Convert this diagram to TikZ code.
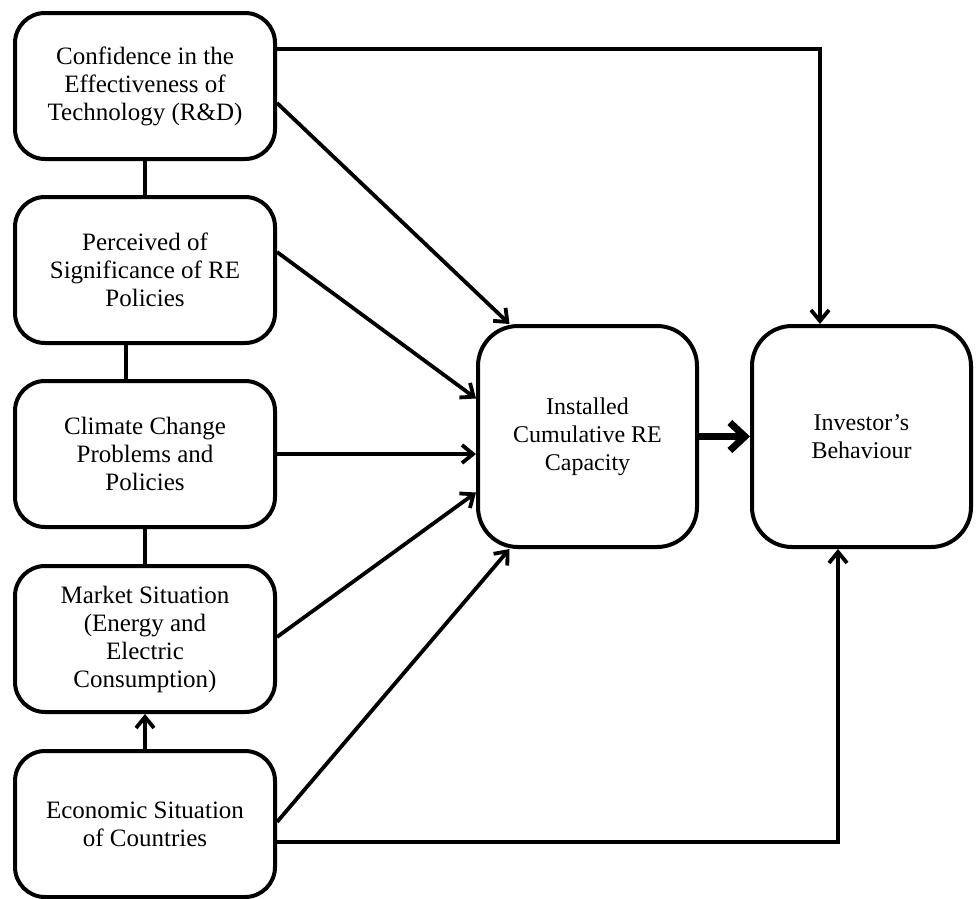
\documentclass[tikz,border=0pt]{standalone}
\usepackage{fontspec}
\setmainfont{Liberation Serif}
\usetikzlibrary{arrows.meta}
\begin{document}
\begin{tikzpicture}[x=1pt,y=-1pt,
  box/.style={draw, line width=4pt, rounded corners=30pt, minimum width=260pt, minimum height=146pt, align=center, font=\fontsize{25}{28}\selectfont, inner sep=0pt},
  bigbox/.style={draw, line width=4pt, rounded corners=40pt, minimum width=219pt, minimum height=221pt, align=center, font=\fontsize{24}{28}\selectfont, inner sep=0pt},
  conn/.style={line width=3.8pt},
  arr/.style={conn, -{Straight Barb[length=11pt,width=18pt]}},
  bigarr/.style={line width=7pt, -{Straight Barb[length=15pt,width=28pt]}}]
\useasboundingbox (0,0) rectangle (977,898);
\node[box] (b1) at (145,86) {Confidence in the\\Effectiveness of\\Technology (R\&D)};
\node[box] (b2) at (145,270) {Perceived of\\Significance of RE\\Policies};
\node[box] (b3) at (145,454) {Climate Change\\Problems and\\Policies};
\node[box] (b4) at (145,639) {Market Situation\\(Energy and\\Electric\\Consumption)};
\node[box] (b5) at (145,824) {Economic Situation\\of Countries};
\node[bigbox] (ib) at (587.5,436.5) {Installed\\Cumulative RE\\Capacity};
\node[bigbox] (inv) at (861.5,436.5) {Investor’s\\Behaviour};
\coordinate (tr) at (820,49);
\coordinate (br) at (838,842);
\draw[conn] (b1.south) -- (b2.north);
\draw[conn] ([xshift=-19pt]b2.south) -- ([xshift=-19pt]b3.north);
\draw[conn] (b3.south) -- (b4.north);
\draw[arr] (b5.north) -- (b4.south);
\draw[arr] (b1.east |- tr) -- (tr) -- (inv.north -| tr);
\draw[arr] ([yshift=-17pt]b1.east) -- ([xshift=-78pt]ib.north);
\draw[arr] ([yshift=18pt]b2.east) -- ([yshift=38pt]ib.west);
\draw[arr] (b3.east) -- (ib.west |- b3.east);
\draw[arr] ([yshift=2pt]b4.east) -- ([yshift=-56pt]ib.west);
\draw[arr] ([yshift=2pt]b5.east) -- ([xshift=-78pt]ib.south);
\draw[arr] (b5.east |- br) -- (br) -- (inv.south -| br);
\draw[bigarr] (ib.east) -- (inv.west);
\end{tikzpicture}
\end{document}
